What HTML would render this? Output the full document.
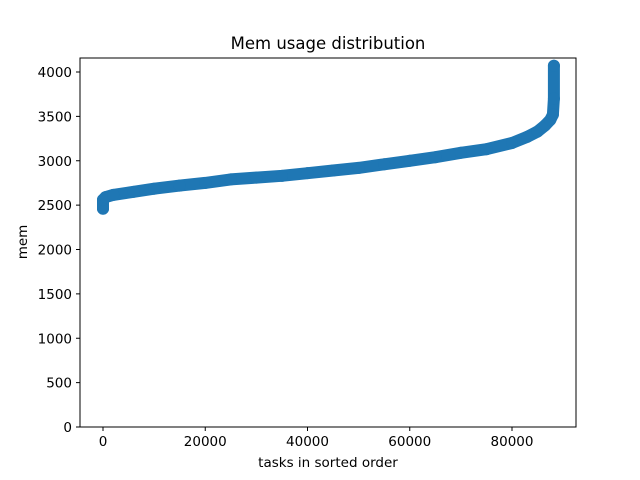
<!DOCTYPE html>
<html><head><meta charset="utf-8"><style>
body{margin:0;background:#fff;}
svg{display:block;font-family:"DejaVu Sans","Liberation Sans",sans-serif;}
</style></head><body>
<svg id="chart" width="640" height="480">
<rect width="640" height="480" fill="#fff"/>
<text x="328" y="49" text-anchor="middle" font-size="16.5">Mem usage distribution</text>
<g id="plot"></g>
<rect x="80" y="58" width="496" height="369" fill="none" stroke="#000" stroke-width="1"/>
<g id="xt"></g><g id="yt"></g>
<text x="328" y="467" text-anchor="middle" font-size="13.5">tasks in sorted order</text>
<text transform="translate(27,242) rotate(-90)" text-anchor="middle" font-size="13.5">mem</text>
</svg>
<script>
const ranks=[0,0,500,2000,6000,10000,15000,20000,25000,30000,35000,40000,45000,50000,55000,60000,65000,70000,75000,80000,83000,85000,86500,87500,88000,88200,88200];
const mems=[2460,2560,2590,2615,2650,2685,2720,2750,2790,2810,2830,2860,2890,2920,2960,3000,3040,3090,3130,3200,3270,3330,3400,3460,3520,3700,4070];
const xTicks=[0,20000,40000,60000,80000];
const yTicks=[0,500,1000,1500,2000,2500,3000,3500,4000];
const NS="http://www.w3.org/2000/svg";
const X=v=>103+v*409/80000;
const Y=v=>427-v*355/4000;
const plot=document.getElementById('plot');
let d='';
ranks.forEach((r,i)=>{d+=(i?'L':'M')+X(r).toFixed(1)+','+Y(mems[i]).toFixed(1);});
const line=document.createElementNS(NS,'path');
line.setAttribute('d',d);line.setAttribute('fill','none');line.setAttribute('stroke','#1f77b4');
line.setAttribute('stroke-width','12');line.setAttribute('stroke-linecap','round');line.setAttribute('stroke-linejoin','round');


plot.appendChild(line);
ranks.forEach((r,i)=>{
 const c=document.createElementNS(NS,'circle');
 c.setAttribute('cx',X(r));c.setAttribute('cy',Y(mems[i]));c.setAttribute('r','6');c.setAttribute('fill','#1f77b4');
 
 
 plot.appendChild(c);
});
const xt=document.getElementById('xt');
xTicks.forEach(t=>{
 const g=document.createElementNS(NS,'g');
 
 
 g.innerHTML=`<line x1="${X(t)}" x2="${X(t)}" y1="427" y2="431" stroke="#000"/><text x="${X(t)}" y="446" text-anchor="middle" font-size="13.5">${t}</text>`;
 xt.appendChild(g);
});
const yt=document.getElementById('yt');
yTicks.forEach(t=>{
 const g=document.createElementNS(NS,'g');
 
 
 g.innerHTML=`<line x1="76" x2="80" y1="${Y(t)}" y2="${Y(t)}" stroke="#000"/><text x="72" y="${Y(t)+5}" text-anchor="end" font-size="13.5">${t}</text>`;
 yt.appendChild(g);
});
</script>
</body></html>
